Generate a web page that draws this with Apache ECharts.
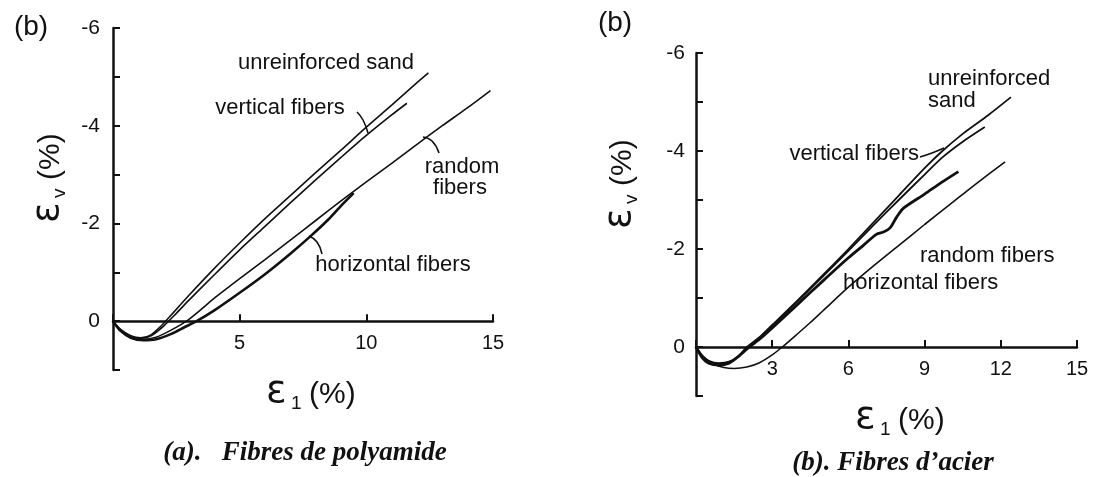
<!DOCTYPE html>
<html>
<head>
<meta charset="utf-8">
<script src="https://cdn.jsdelivr.net/npm/echarts@6/dist/echarts.min.js"></script>
<style>
  html, body { margin: 0; padding: 0; background: #fff; }
  #chart { width: 1095px; height: 477px; }
</style>
</head>
<body>
<div id="chart"></div>
<script>
// Volumetric strain εv (%) against axial strain ε1 (%); dilation is negative, drawn upward.

// Panel (a): polyamide fibres — [ε1, εv] pairs
const polyUnreinforced = [[0,0],[0.3,0.17],[0.7,0.3],[1.1,0.34],[1.5,0.28],[1.9,0.1],[2.2,-0.07],[2.6,-0.3],[3,-0.53],[4,-1.08],[5,-1.6],[6,-2.1],[7,-2.57],[8,-3.04],[9,-3.5],[10,-3.97],[11,-4.42],[12,-4.88],[12.45,-5.08]];
const polyVertical = [[0,0],[0.3,0.18],[0.7,0.31],[1.1,0.35],[1.5,0.3],[2,0.1],[2.5,-0.16],[3,-0.43],[4,-0.95],[5,-1.46],[6,-1.94],[7,-2.42],[8,-2.89],[9,-3.35],[10,-3.8],[11,-4.22],[11.6,-4.46]];
const polyRandom = [[0,0],[0.3,0.18],[0.7,0.32],[1.2,0.37],[1.7,0.33],[2.2,0.21],[2.9,0],[3.5,-0.25],[4,-0.47],[5,-0.87],[6,-1.26],[7,-1.66],[8,-2.06],[9,-2.46],[10,-2.85],[11,-3.23],[12,-3.62],[13,-4.0],[14,-4.37],[14.9,-4.72]];
const polyHorizontal = [[0,0],[0.3,0.2],[0.7,0.34],[1.2,0.39],[1.7,0.37],[2.3,0.26],[2.8,0.13],[3.3,0],[4,-0.22],[5,-0.58],[6,-0.96],[7,-1.38],[7.8,-1.74],[8.5,-2.08],[9,-2.36],[9.5,-2.62]];

// Panel (b): steel fibres — [ε1, εv] pairs
const steelUnreinforced = [[0,0],[0.25,0.18],[0.5,0.28],[0.9,0.33],[1.3,0.3],[1.7,0.17],[2,0],[2.5,-0.2],[3,-0.45],[4,-0.95],[5,-1.47],[6,-2.0],[7,-2.55],[8,-3.1],[9,-3.65],[9.7,-4.0],[10.5,-4.35],[11.5,-4.73],[12.4,-5.1]];
const steelVertical = [[0,0],[0.25,0.2],[0.5,0.3],[0.9,0.35],[1.3,0.32],[1.7,0.19],[2.05,0],[2.5,-0.19],[3,-0.43],[4,-0.93],[5,-1.44],[6,-1.96],[7,-2.49],[8,-3.01],[9,-3.52],[9.7,-3.87],[10.5,-4.19],[11.37,-4.49]];
const steelRandom = [[0,0],[0.25,0.22],[0.5,0.33],[0.9,0.37],[1.3,0.33],[1.7,0.18],[2.1,0],[2.5,-0.16],[3,-0.39],[4,-0.87],[5,-1.35],[6,-1.82],[6.6,-2.08],[7.1,-2.3],[7.4,-2.35],[7.64,-2.43],[7.9,-2.65],[8.16,-2.83],[9,-3.12],[9.7,-3.37],[10.33,-3.58]];
const steelHorizontal = [[0,0],[0.3,0.2],[0.7,0.35],[1.1,0.42],[1.5,0.44],[2,0.41],[2.5,0.32],[3,0.16],[3.4,0],[4,-0.27],[4.5,-0.5],[5,-0.74],[6,-1.22],[7,-1.66],[8,-2.08],[9,-2.5],[10,-2.91],[11,-3.32],[12.17,-3.78]];

// Tick labels
const polyXTicks = [5, 10, 15];
const steelXTicks = [3, 6, 9, 12, 15];
const yTicks = [-6, -4, -2, 0];

const INK = '#111';
const SANS = '"Liberation Sans", Arial, sans-serif';
const Y_MIN = -6, Y_MAX = 1;

// The ε1 axis sits on εv = 0: shift it up from the grid bottom by the +1 band
function xAxisCfg(gridIndex, interval, labels, gridHeight) {
  return {
    type: 'value', gridIndex, min: 0, max: 15, interval,
    offset: -gridHeight * Y_MAX / (Y_MAX - Y_MIN),
    axisLine: { show: true, onZero: false, lineStyle: { color: INK, width: 2.5 } },
    axisTick: { show: true, inside: true, length: 7, lineStyle: { color: INK, width: 2 } },
    axisLabel: { margin: 12, fontSize: 20, fontFamily: SANS, color: INK,
      formatter: v => labels.includes(v) ? String(v) : '' },
    splitLine: { show: false }
  };
}
function yAxisCfg(gridIndex, margin) {
  return {
    type: 'value', gridIndex, min: Y_MIN, max: Y_MAX, interval: 1, inverse: true,
    axisLine: { show: true, onZero: false, lineStyle: { color: INK, width: 2.5 } },
    axisTick: { show: true, inside: true, length: 7, lineStyle: { color: INK, width: 2 } },
    axisLabel: { margin, fontSize: 21, fontFamily: SANS, color: INK,
      formatter: v => yTicks.includes(v) ? String(v) : '' },
    splitLine: { show: false }
  };
}
function curve(data, axis, width) {
  return {
    type: 'line', data, xAxisIndex: axis, yAxisIndex: axis,
    showSymbol: false, smooth: 0.25, silent: true,
    lineStyle: { color: INK, width }
  };
}
function txt(x, y, text, opts) {
  const o = opts || {};
  return {
    type: 'text', x, y, silent: true,
    style: {
      text, fill: INK, font: o.font || ('22px ' + SANS),
      textAlign: o.align || 'center', textVerticalAlign: o.valign || 'middle',
      align: o.align || 'center', verticalAlign: o.valign || 'middle'
    }
  };
}
function leader(points) {
  return { type: 'polyline', silent: true, shape: { points, smooth: 0.5 },
    style: { stroke: INK, lineWidth: 1.6, fill: null } };
}
// ε with a subscript followed by "(%)"; rotation turns it into a vertical title
function strainTitle(cx, cy, sub, rotation) {
  return {
    type: 'group', x: cx, y: cy, rotation, silent: true,
    children: [
      { type: 'text', x: -46, y: -3, style: { text: 'ε', fill: INK, font: '38px "DejaVu Sans", sans-serif', textAlign: 'left', textVerticalAlign: 'middle', align: 'left', verticalAlign: 'middle' } },
      { type: 'text', x: -21, y: 9, style: { text: sub, fill: INK, font: '19px ' + SANS, textAlign: 'left', textVerticalAlign: 'middle', align: 'left', verticalAlign: 'middle' } },
      { type: 'text', x: -3, y: 0, style: { text: '(%)', fill: INK, font: '30px ' + SANS, textAlign: 'left', textVerticalAlign: 'middle', align: 'left', verticalAlign: 'middle' } }
    ]
  };
}

const CAPTION = 'italic bold 27px "Liberation Serif", "Times New Roman", serif';
const GRID_A = { left: 113, top: 28, width: 380, height: 342 };
const GRID_B = { left: 696, top: 53, width: 381, height: 343 };

const option = {
  animation: false,
  backgroundColor: '#fff',
  grid: [GRID_A, GRID_B],
  xAxis: [xAxisCfg(0, 5, polyXTicks, GRID_A.height), xAxisCfg(1, 3, steelXTicks, GRID_B.height)],
  yAxis: [yAxisCfg(0, 13), yAxisCfg(1, 11)],
  series: [
    curve(polyUnreinforced, 0, 1.6),
    curve(polyVertical, 0, 1.6),
    curve(polyRandom, 0, 1.6),
    curve(polyHorizontal, 0, 2.6),
    curve(steelUnreinforced, 1, 1.8),
    curve(steelVertical, 1, 1.8),
    curve(steelRandom, 1, 2.8),
    curve(steelHorizontal, 1, 1.6)
  ],
  graphic: [
    // panel (a)
    txt(31, 27, '(b)', { font: '28px ' + SANS }),
    strainTitle(51, 177, 'v', Math.PI / 2),
    strainTitle(312, 395, '1', 0),
    txt(326, 63, 'unreinforced sand'),
    txt(280, 108, 'vertical fibers'),
    leader([[357, 112], [363, 120], [368, 133]]),
    txt(462, 167, 'random'),
    txt(460, 188, 'fibers'),
    leader([[423, 137], [432, 141], [439, 153]]),
    txt(393, 265, 'horizontal fibers'),
    leader([[309, 236], [317, 242], [322, 254]]),
    txt(305, 453, '(a).   Fibres de polyamide', { font: CAPTION }),
    // panel (b)
    txt(615, 23, '(b)', { font: '28px ' + SANS }),
    strainTitle(623, 183, 'v', Math.PI / 2),
    strainTitle(901, 421, '1', 0),
    txt(928, 79, 'unreinforced', { align: 'left' }),
    txt(928, 101, 'sand', { align: 'left' }),
    txt(919, 154, 'vertical fibers', { align: 'right' }),
    leader([[920, 157], [932, 153], [944, 148]]),
    txt(920, 256, 'random fibers', { align: 'left' }),
    txt(843, 283, 'horizontal fibers', { align: 'left' }),
    txt(893, 463, '(b). Fibres d\u2019acier', { font: CAPTION })
  ]
};

echarts.init(document.getElementById('chart'), null, { renderer: 'canvas' }).setOption(option);
</script>
</body>
</html>
